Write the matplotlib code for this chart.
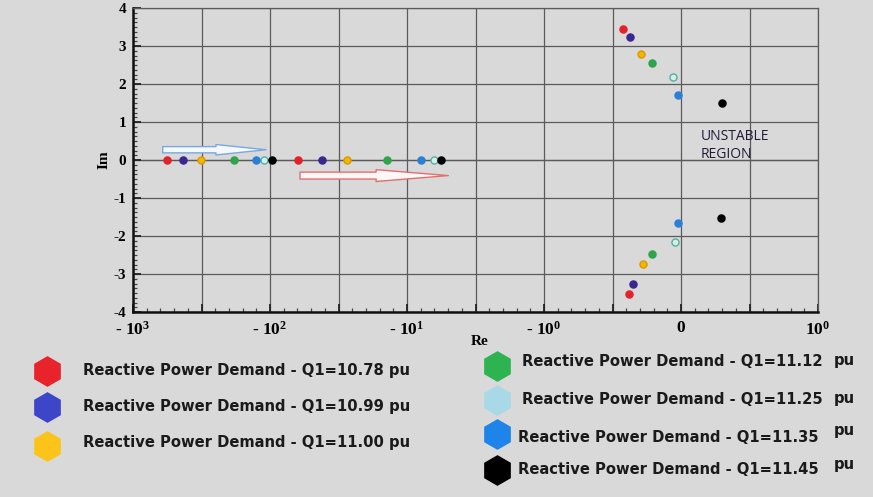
import numpy as np
import matplotlib
matplotlib.use("Agg")
import matplotlib.pyplot as plt
from matplotlib.ticker import FixedLocator, FixedFormatter

plt.rcParams['mathtext.fontset'] = 'custom'
plt.rcParams['mathtext.rm'] = 'Liberation Serif:bold'
plt.rcParams['mathtext.bf'] = 'Liberation Serif:bold'
plt.rcParams['mathtext.it'] = 'Liberation Serif:bold'

# ---------------- data ----------------
q_values = ["10.78", "10.99", "11.00", "11.12", "11.25", "11.35", "11.45"]
point_colors = ["#e3212b", "#3b2590", "#f2b705", "#2ea54a", "#d5eeea", "#2b80d6", "#000000"]
point_edges = ["#e3212b", "#3b2590", "#d99a00", "#2ea54a", "#55b0a0", "#2b80d6", "#000000"]
legend_colors = ["#e8232b", "#3d45c8", "#fcc41a", "#2db350", "#a9d9e6", "#1f84ea", "#000000"]

# two real eigenvalues on the negative real axis
real_far = [-564, -431, -320, -183, -111, -126, -97]
real_near = [-62, -42, -27.5, -14, -6.3, -7.9, -5.6]
# complex conjugate pair (upper / lower as read)
cre_top = [-0.42, -0.37, -0.29, -0.21, -0.055, -0.022, 0.30]
cim_top = [3.46, 3.25, 2.80, 2.54, 2.18, 1.72, 1.49]
cre_bot = [-0.38, -0.35, -0.28, -0.21, -0.046, -0.022, 0.29]
cim_bot = [-3.52, -3.26, -2.74, -2.47, -2.15, -1.67, -1.53]

xtick_vals = [-1000, -100, -10, -1, 0, 1]
xtick_labels = ['- $10^{3}$', '- $10^{2}$', '- $10^{1}$', '- $10^{0}$', '0', '$10^{0}$']
ytick_vals = [-4, -3, -2, -1, 0, 1, 2, 3, 4]

# ---------------- figure ----------------
W, H = 873, 497
bg = "#d9d9d9"
fig = plt.figure(figsize=(W / 100, H / 100), dpi=100, facecolor=bg)
ax = fig.add_axes([133 / W, 1 - 312 / H, (818 - 133) / W, (312 - 8) / H], facecolor=bg)
ax.set_xscale('symlog', linthresh=1, linscale=0.9, base=10)
ax.set_xlim(-1000, 1)
ax.set_ylim(-4, 4)

tr = ax.xaxis.get_transform()
inv = tr.inverted()
t0, t1 = tr.transform([-1000, 1])
major_pos = inv.transform(np.linspace(t0, t1, 11))
minor_pos = inv.transform(np.linspace(t0, t1, 51))
labels = []
for p in major_pos:
    key = None
    for v in xtick_vals:
        if abs(p - v) < 1e-6 * max(1, abs(v)):
            key = v
    labels.append(xtick_labels[xtick_vals.index(key)] if key is not None else "")
ax.xaxis.set_major_locator(FixedLocator(major_pos))
ax.xaxis.set_major_formatter(FixedFormatter(labels))
ax.xaxis.set_minor_locator(FixedLocator(minor_pos))

ax.set_yticks(ytick_vals)
ax.set_yticklabels([str(v) for v in ytick_vals], family='Liberation Serif', weight='bold', fontsize=11)
ax.yaxis.set_minor_locator(FixedLocator(np.arange(-4, 4.001, 0.125)))
for lab in ax.get_xticklabels():
    lab.set_fontsize(12.5)
    lab.set_family('Liberation Serif')
    lab.set_weight('bold')

ax.grid(True, which='major', color='#5a5a5a', lw=0.9)
ax.tick_params(which='major', direction='in', length=6, width=1.3, color='#222222')
ax.tick_params(axis='x', which='major', pad=6)
ax.tick_params(axis='y', which='major', pad=5)
ax.tick_params(which='minor', direction='in', length=3, width=0.9, color='#444444')
for s in ['left', 'bottom']:
    ax.spines[s].set_color('#111111')
    ax.spines[s].set_linewidth(1.8)
for s in ['top', 'right']:
    ax.spines[s].set_color('#5a5a5a')
    ax.spines[s].set_linewidth(0.9)

ax.set_xlabel('Re', family='Liberation Serif', weight='bold', fontsize=11)
ax.xaxis.set_label_coords((480 - 133) / (818 - 133), -0.075)
ax.set_ylabel('Im', family='Liberation Serif', weight='bold', fontsize=11, labelpad=2)

ax.axhline(0, color='#5a5a5a', lw=0.9, zorder=1)

for i in range(len(q_values)):
    xs = [real_far[i], real_near[i], cre_top[i], cre_bot[i]]
    ys = [0, 0, cim_top[i], cim_bot[i]]
    ax.scatter(xs, ys, s=26, c=point_colors[i], edgecolors=point_edges[i],
               linewidths=1.0, zorder=5)

# arrows
ax.annotate('', xy=(-107, 0.27), xytext=(-607, 0.27),
            arrowprops=dict(arrowstyle='simple,head_length=3.6,head_width=0.75,tail_width=0.45',
                            fc='#f4f8ff', ec='#7aa8de', lw=1.0, shrinkA=0, shrinkB=0), zorder=4)
ax.annotate('', xy=(-4.99, -0.41), xytext=(-60.4, -0.41),
            arrowprops=dict(arrowstyle='simple,head_length=5.2,head_width=0.85,tail_width=0.5',
                            fc='#fff6f6', ec='#e07070', lw=1.0, shrinkA=0, shrinkB=0), zorder=4)

ax.text(0.144, 0.38, 'UNSTABLE\nREGION', family='Open Sans', fontsize=10, color='#221a38',
        ha='left', va='center', linespacing=1.35)

# ---------------- legend (manual, figure pixel coordinates) ----------------
lg = fig.add_axes([0, 0, 1, 1], facecolor='none')
lg.set_xlim(0, W)
lg.set_ylim(H, 0)
lg.axis('off')
leg_marker_pos = [(47, 371), (47, 407), (47, 446), (497, 366), (497, 400), (497, 434), (497, 470)]
leg_text_pos = [(83, 370), (83, 407), (83, 442), (522, 362), (522, 399), (518, 437), (518, 470)]
pu_pos = [None, None, None, (834, 361), (834, 399), (834, 431), (834, 464)]
for i, q in enumerate(q_values):
    mx, my = leg_marker_pos[i]
    lg.plot([mx], [my], marker='h', ms=21, color=legend_colors[i], mec=legend_colors[i], ls='none')
    tx, ty = leg_text_pos[i]
    if pu_pos[i] is None:
        txt = f'Reactive Power Demand - Q1={q} pu'
    else:
        txt = f'Reactive Power Demand - Q1={q}'
    lg.text(tx, ty, txt, fontsize=10.6, weight='bold', color='#1a1a1a', ha='left', va='center')
    if pu_pos[i] is not None:
        lg.text(pu_pos[i][0], pu_pos[i][1], 'pu', fontsize=10.6, weight='bold', color='#1a1a1a',
                ha='left', va='center')

fig.savefig('out.png', dpi=100, facecolor=bg)
